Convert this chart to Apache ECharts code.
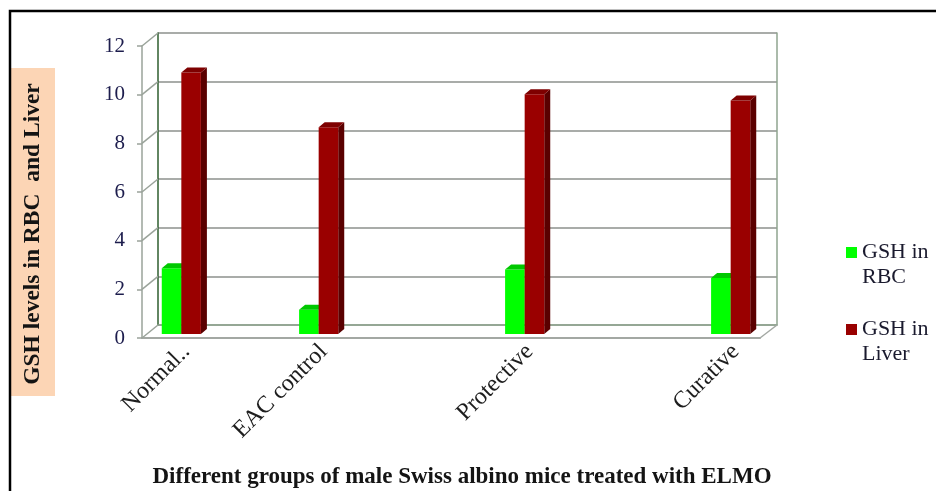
<!DOCTYPE html>
<html>
<head>
<meta charset="utf-8">
<script src="https://cdn.jsdelivr.net/npm/echarts@6/dist/echarts.min.js"></script>
<style>
  html, body { margin: 0; padding: 0; background: #fff; }
  #chart { width: 936px; height: 491px; }
</style>
</head>
<body>
<div id="chart"></div>
<script>
// Group slots along the category axis (empty slots keep the uneven spacing)
const categories = ['Normal..', '', 'EAC control', '', '', 'Protective', '', '', 'Curative'];
// GSH in RBC and in liver per group
const gshRBC   = [2.7, null, 1.0, null, null, 2.65, null, null, 2.3];
const gshLiver = [10.75, null, 8.5, null, null, 9.85, null, null, 9.6];
const seriesNames = ['GSH in RBC', 'GSH in Liver'];
const yTicks = [0, 2, 4, 6, 8, 10, 12];

const FONT = '"Liberation Serif", "Times New Roman", serif';

// Layout of the planes of the 3-D box
const front = { left: 142, right: 176, top: 46, bottom: 153 };
const back  = { left: 158, right: 159, top: 33, bottom: 166 };
const mid   = { left: 147, right: 171, top: 42, bottom: 157 };
const labelPlane = { left: 152, right: 166, top: 46, bottom: 153 };

const chart = echarts.init(document.getElementById('chart'));

function toPairs(arr) {
  return arr.map((v, i) => [i, v]).filter(d => d[1] != null);
}

// 3-D column: front face, darker right side and top face
function columnRenderer(side, faces) {
  return function (params, api) {
    const idx = api.value(0);
    const v = api.value(1);
    const base = api.coord([idx, 0]);
    const top = api.coord([idx, v]);
    const slot = api.size([1, 0])[0];
    const w = slot * 0.285;
    const dx = 6, dy = 5;
    const x0 = side < 0 ? base[0] - w : base[0];
    const x1 = x0 + w;
    return {
      type: 'group',
      children: [
        { type: 'polygon', shape: { points: [[x1, top[1]], [x1 + dx, top[1] - dy], [x1 + dx, base[1] - dy], [x1, base[1]]] },
          style: { fill: faces.side } },
        { type: 'rect', shape: { x: x0, y: top[1], width: w, height: base[1] - top[1] },
          style: { fill: faces.front } },
        { type: 'polygon', shape: { points: [[x0, top[1]], [x0 + dx, top[1] - dy], [x1 + dx, top[1] - dy], [x1, top[1]]] },
          style: { fill: faces.top } }
      ]
    };
  };
}

const option = {
  backgroundColor: '#ffffff',
  animation: false,
  grid: [
    Object.assign({ containLabel: false }, mid),
    Object.assign({ containLabel: false }, back),
    Object.assign({ containLabel: false }, front),
    Object.assign({ containLabel: false }, labelPlane)
  ],
  legend: {
    orient: 'vertical',
    left: 846,
    top: 215,
    padding: 0,
    itemGap: 2,
    itemWidth: 11,
    itemHeight: 11,
    icon: 'rect',
    data: seriesNames,
    formatter: name => '\n' + name.replace(' in ', ' in\n'),
    textStyle: { fontFamily: FONT, fontSize: 22, lineHeight: 25, color: '#1a1a2e' }
  },
  xAxis: [
    { gridIndex: 0, type: 'category', data: categories, show: false },
    { gridIndex: 1, type: 'category', data: categories, position: 'top',
      axisLine: { show: true, lineStyle: { color: '#8fa58f', width: 1.5 } },
      axisTick: { show: false }, axisLabel: { show: false }, splitLine: { show: false } },
    { gridIndex: 2, type: 'category', data: categories, position: 'bottom',
      axisLine: { show: true, lineStyle: { color: '#a3a8a3', width: 2 } },
      axisTick: { show: false }, axisLabel: { show: false }, splitLine: { show: false } },
    { gridIndex: 3, type: 'category', data: categories, position: 'bottom',
      axisLine: { show: false }, axisTick: { show: false },
      axisLabel: { interval: 0, rotate: 45, margin: 10, fontFamily: FONT, fontSize: 24, color: '#1e1e1e' },
      splitLine: { show: false } }
  ],
  yAxis: [
    { gridIndex: 0, type: 'value', min: 0, max: 12, interval: 2, show: false },
    { gridIndex: 1, type: 'value', min: 0, max: 12, interval: 2, position: 'left',
      axisLine: { show: true, lineStyle: { color: '#2e5e2e', width: 1.5 } },
      axisTick: { show: false }, axisLabel: { show: false },
      splitLine: { show: true, lineStyle: { color: '#a9aca9', width: 2 } } },
    { gridIndex: 1, type: 'value', min: 0, max: 12, interval: 2, position: 'right',
      axisLine: { show: true, lineStyle: { color: '#8fa58f', width: 1.5 } },
      axisTick: { show: false }, axisLabel: { show: false }, splitLine: { show: false } },
    { gridIndex: 2, type: 'value', min: 0, max: 12, interval: 2, position: 'left',
      axisLine: { show: true, lineStyle: { color: '#9aa39a', width: 1.5 } },
      axisTick: { show: true, length: 5, lineStyle: { color: '#9aa39a', width: 1.5 } },
      axisLabel: { margin: 17, fontFamily: FONT, fontSize: 21, color: '#1d1d4d' },
      splitLine: { show: false } },
    { gridIndex: 3, type: 'value', min: 0, max: 12, show: false }
  ],
  series: [
    {
      name: seriesNames[0], type: 'custom', xAxisIndex: 0, yAxisIndex: 0, z: 5,
      itemStyle: { color: '#00ff00' },
      encode: { x: 0, y: 1 },
      renderItem: columnRenderer(-1, { front: '#00ff00', side: '#00b000', top: '#00c800' }),
      data: toPairs(gshRBC)
    },
    {
      name: seriesNames[1], type: 'custom', xAxisIndex: 0, yAxisIndex: 0, z: 6,
      itemStyle: { color: '#990000' },
      encode: { x: 0, y: 1 },
      renderItem: columnRenderer(1, { front: '#9a0000', side: '#5a0000', top: '#7e0000' }),
      data: toPairs(gshLiver)
    }
  ]
};

chart.setOption(option);

// Side wall and floor edges joining the front axis to the back wall
const W = 936;
const wallLines = yTicks.map(t => {
  const fy = chart.convertToPixel({ yAxisIndex: 3 }, t);
  const by = chart.convertToPixel({ yAxisIndex: 1 }, t);
  return { type: 'line', shape: { x1: front.left, y1: fy, x2: back.left, y2: by },
           style: { stroke: '#9aa39a', lineWidth: 1.5 }, z: 1 };
});
const fy0 = chart.convertToPixel({ yAxisIndex: 3 }, 0);
const by0 = chart.convertToPixel({ yAxisIndex: 1 }, 0);
wallLines.push({ type: 'line',
  shape: { x1: W - front.right, y1: fy0, x2: W - back.right, y2: by0 },
  style: { stroke: '#a3a8a3', lineWidth: 1.5 }, z: 1 });

chart.setOption({
  graphic: [
    { type: 'rect', shape: { x: 10, y: 11, width: 940, height: 500 },
      style: { fill: null, stroke: '#000', lineWidth: 2.5 }, z: 10 },
    { type: 'rect', shape: { x: 11, y: 68, width: 44, height: 328 },
      style: { fill: '#fcd5b5' }, z: 1 },
    { type: 'text', x: 33, y: 234, rotation: Math.PI / 2, z: 2,
      style: { text: 'GSH levels in RBC  and Liver', fontFamily: FONT, fontWeight: 'bold',
               fontSize: 23.5, fill: '#141414', align: 'center', verticalAlign: 'middle' } },
    { type: 'text', x: 462, y: 477, z: 2,
      style: { text: 'Different groups of male Swiss albino mice treated with ELMO', fontFamily: FONT,
               fontWeight: 'bold', fontSize: 23, fill: '#141414', align: 'center', verticalAlign: 'middle' } }
  ].concat(wallLines)
});
</script>
</body>
</html>
